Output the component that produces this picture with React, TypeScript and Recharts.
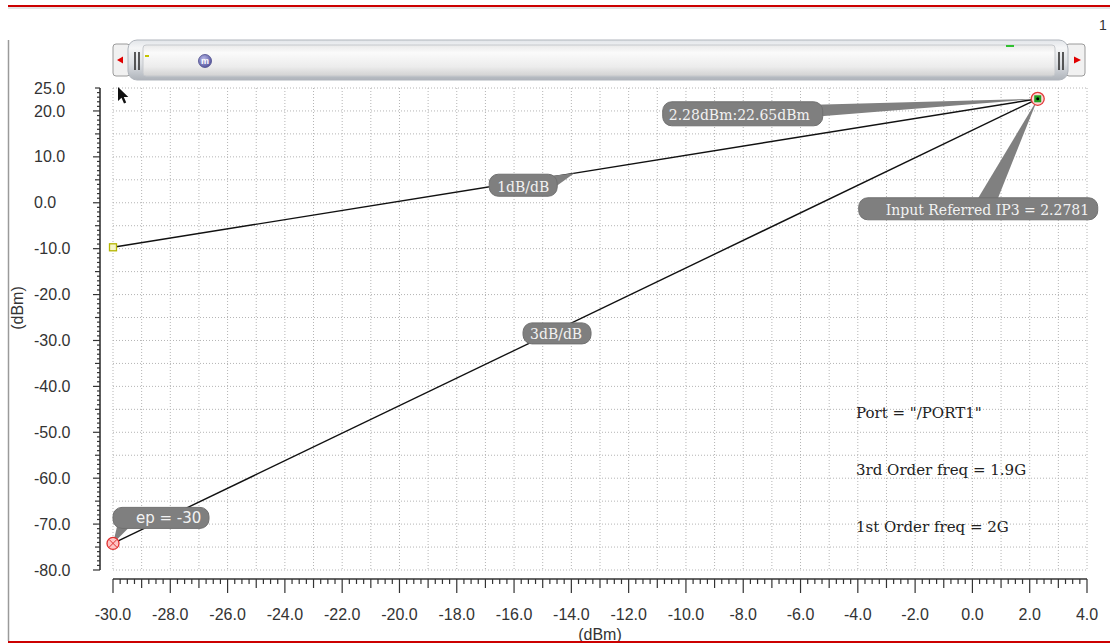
import React from "react";
import {
  LineChart,
  Line,
  XAxis,
  YAxis,
  CartesianGrid,
  ReferenceDot,
} from "recharts";

const WIDTH = 1110;
const HEIGHT = 644;

// IP3 intercept: input dBm / output dBm
const IP3_IN = 2.28;
const IP3_OUT = 22.65;
const EXTRAP_POINT = -30;

// 1st order (1dB/dB) and 3rd order (3dB/dB) extrapolation lines
const FIRST_ORDER = [
  { x: EXTRAP_POINT, y: -9.7 },
  { x: IP3_IN, y: IP3_OUT },
];
const THIRD_ORDER = [
  { x: EXTRAP_POINT, y: -74.2 },
  { x: IP3_IN, y: IP3_OUT },
];

const X_LABELS = [-30, -28, -26, -24, -22, -20, -18, -16, -14, -12, -10, -8, -6, -4, -2, 0, 2, 4];
const Y_LABELS = [25, 20, 10, 0, -10, -20, -30, -40, -50, -60, -70, -80];
const X_GRID = Array.from({ length: 35 }, (_, i) => -30 + i);
const Y_GRID = Array.from({ length: 22 }, (_, i) => 25 - i * 5);
const X_RULER = Array.from({ length: 137 }, (_, i) => -30 + i * 0.25);
const Y_RULER = Array.from({ length: 106 }, (_, i) => -80 + i);

const NOTES = ['Port = "/PORT1"', "3rd Order freq = 1.9G", "1st Order freq = 2G"];

const SERIF = "'DejaVu Serif', serif";
const SANS = "'Liberation Sans', Arial, sans-serif";

// point on a straight segment at a given x, used to pin the slope labels
const onLine = (pts: { x: number; y: number }[], x: number) => {
  const [a, b] = pts;
  return { x, y: a.y + ((x - a.x) * (b.y - a.y)) / (b.x - a.x) };
};
const LBL_1DB = onLine(FIRST_ORDER, -13.9);
const LBL_3DB = onLine(THIRD_ORDER, -14.5);

type CalloutSpec = {
  text: string;
  box: [number, number, number, number]; // dx, dy, w, h from the anchor
  tail?: [number, number][];
  tx: number;
  ty: number;
  font?: string;
  size?: number;
};

function Callout({ cx, cy, spec }: any) {
  const s: CalloutSpec = spec;
  const [dx, dy, w, h] = s.box;
  return (
    <g>
      {s.tail && (
        <polygon
          points={[...s.tail, [0, 0]].map(([px, py]) => `${cx + px},${cy + py}`).join(" ")}
          fill="#808080"
        />
      )}
      <rect x={cx + dx} y={cy + dy} width={w} height={h} rx={9} fill="#7f7f7f" stroke="#707070" />
      <text
        x={cx + dx + s.tx}
        y={cy + dy + s.ty}
        fill="#f2f2f2"
        fontFamily={s.font ?? SERIF}
        fontSize={s.size ?? 14}
      >
        {s.text}
      </text>
    </g>
  );
}

const CALLOUT_POINT: CalloutSpec = {
  text: `${IP3_IN.toFixed(2)}dBm:${IP3_OUT.toFixed(2)}dBm`,
  box: [-375, 3, 160, 24],
  tail: [[-223, 6], [-223, 18]],
  tx: 6,
  ty: 18,
};
const CALLOUT_IP3: CalloutSpec = {
  text: "Input Referred IP3 = 2.2781",
  box: [-179, 99, 239, 22],
  tail: [[-60, 100], [-40, 100]],
  tx: 27,
  ty: 17,
};
const CALLOUT_1DB: CalloutSpec = {
  text: "1dB/dB",
  box: [-85, 1, 68, 22],
  tail: [[-26, 3], [-18, 13]],
  tx: 8,
  ty: 18,
};
const CALLOUT_3DB: CalloutSpec = {
  text: "3dB/dB",
  box: [-34, -7, 68, 21],
  tx: 7,
  ty: 16,
};
const CALLOUT_EP: CalloutSpec = {
  text: `ep = ${EXTRAP_POINT}`,
  box: [0, -36, 96, 21],
  tail: [[4, -17], [17, -17]],
  tx: 23,
  ty: 16,
  font: "'DejaVu Sans', sans-serif",
  size: 15,
};

const isInt = (v: number) => Math.abs(v - Math.round(v)) < 1e-9;

function XRulerTick({ x, y, payload }: any) {
  const v: number = payload.value;
  const major = isInt(v) && Math.round(v) % 2 === 0;
  const len = major ? 14 : isInt(v) ? 9 : 5;
  const ay = y + 9;
  return (
    <g>
      <line x1={x} x2={x} y1={ay} y2={ay + len} stroke="#333" strokeWidth={1.2} />
      {major && X_LABELS.includes(Math.round(v)) && (
        <text x={x} y={y + 44} textAnchor="middle" dy="0.35em" fill="#333" fontFamily={SANS} fontSize={16}>
          {v.toFixed(1)}
        </text>
      )}
    </g>
  );
}

function YRulerTick({ x, y, payload }: any) {
  const v: number = payload.value;
  const len = v % 10 === 0 ? 7 : v % 5 === 0 ? 5 : 3;
  const ax = x - 13;
  return (
    <g>
      <line x1={ax - len} x2={ax} y1={y} y2={y} stroke="#333" strokeWidth={1.2} />
      {Y_LABELS.includes(v) && (
        <text x={x - 79} y={y} dy="0.35em" textAnchor="start" fill="#333" fontFamily={SANS} fontSize={16}>
          {v.toFixed(1)}
        </text>
      )}
    </g>
  );
}

// hollow square at the 1st order extrapolation start
const squareDot = ({ cx, cy, index }: any) =>
  index === 0 ? (
    <rect key="sq" x={cx - 3.5} y={cy - 3.5} width={7} height={7} fill="#f6f6c8" stroke="#b5b500" strokeWidth={1.3} />
  ) : (
    <g key="none" />
  );

// red circled cross at the 3rd order extrapolation start
const crossDot = ({ cx, cy, index }: any) =>
  index === 0 ? (
    <g key="cx">
      <circle cx={cx} cy={cy} r={6} fill="#ffc4c4" stroke="#e03030" strokeWidth={1.3} />
      <line x1={cx - 4} y1={cy - 4} x2={cx + 4} y2={cy + 4} stroke="#e03030" />
      <line x1={cx - 4} y1={cy + 4} x2={cx + 4} y2={cy - 4} stroke="#e03030" />
    </g>
  ) : (
    <g key="none" />
  );

function InterceptMarker({ cx, cy }: any) {
  return (
    <g>
      <circle cx={cx} cy={cy} r={6.5} fill="#ffd6d6" stroke="#e03a3a" strokeWidth={1.3} />
      <rect x={cx - 3.5} y={cy - 3.5} width={7} height={7} fill="#20a020" />
      <circle cx={cx} cy={cy} r={1.5} fill="#000" />
    </g>
  );
}

function Chrome() {
  return (
    <svg
      width={WIDTH}
      height={HEIGHT}
      style={{ position: "absolute", left: 0, top: 0, pointerEvents: "none" }}
    >
      <defs>
        <linearGradient id="barOuter" x1="0" y1="0" x2="0" y2="1">
          <stop offset="0" stopColor="#e2e5e9" />
          <stop offset="0.2" stopColor="#f5f6f7" />
          <stop offset="0.6" stopColor="#dcdfe3" />
          <stop offset="1" stopColor="#aeb3ba" />
        </linearGradient>
        <linearGradient id="barInner" x1="0" y1="0" x2="0" y2="1">
          <stop offset="0" stopColor="#e9e9e9" />
          <stop offset="0.25" stopColor="#fbfbfb" />
          <stop offset="0.7" stopColor="#ececec" />
          <stop offset="1" stopColor="#d2d2d2" />
        </linearGradient>
        <radialGradient id="mBadge" cx="0.4" cy="0.35" r="0.7">
          <stop offset="0" stopColor="#b8b8e8" />
          <stop offset="1" stopColor="#50509a" />
        </radialGradient>
      </defs>

      <line x1={8} x2={WIDTH} y1={6} y2={6} stroke="#cc0000" strokeWidth={2} />
      <line x1={8} x2={WIDTH} y1={8} y2={8} stroke="#c8c8c8" strokeWidth={1} />
      <text x={1099} y={30} fill="#333" fontFamily={SANS} fontSize={14}>1</text>
      <line x1={8.5} x2={8.5} y1={40} y2={641} stroke="#9a9a9a" strokeWidth={1.5} />

      {/* scroll / zoom bar */}
      <rect x={113} y={44} width={17} height={32} rx={3} fill="#f1f1f1" stroke="#9a9a9a" />
      <polygon points="117,60 123,56.5 123,63.5" fill="#e00000" />
      <rect x={1066} y={44} width={19} height={32} rx={3} fill="#f1f1f1" stroke="#9a9a9a" />
      <polygon points="1074,56.5 1074,63.5 1081,60" fill="#e00000" />
      <rect x={128} y={40} width={940} height={40} rx={9} fill="url(#barOuter)" stroke="#b0b5bc" />
      <rect x={143} y={45} width={912} height={31} rx={3} fill="url(#barInner)" stroke="#c6c9cd" />
      <line x1={135} x2={135} y1={52} y2={70} stroke="#333" strokeWidth={1.6} />
      <line x1={139} x2={139} y1={52} y2={70} stroke="#333" strokeWidth={1.6} />
      <line x1={1059} x2={1059} y1={52} y2={70} stroke="#333" strokeWidth={1.6} />
      <line x1={1063} x2={1063} y1={52} y2={70} stroke="#333" strokeWidth={1.6} />
      <line x1={145} x2={149} y1={56} y2={56} stroke="#c4c400" strokeWidth={2} />
      <line x1={1006} x2={1014} y1={46} y2={46} stroke="#30c030" strokeWidth={2} />
      <circle cx={205} cy={61} r={6.5} fill="url(#mBadge)" stroke="#4a4a8a" strokeWidth={0.8} />
      <text x={205} y={64} textAnchor="middle" fill="#fff" fontFamily={SANS} fontSize={9} fontWeight="bold">m</text>

      {/* pointer */}
      <path d="M118 87 L118 101 L121.5 97.8 L124 103.5 L126.2 102.5 L123.8 97 L128.3 97 Z" fill="#111" />

      {/* analysis notes */}
      {NOTES.map((t, i) => (
        <text key={t} x={856} y={418 + i * 57} fill="#222" fontFamily={SERIF} fontSize={15}>
          {t}
        </text>
      ))}

      {/* axis titles */}
      <text
        transform="translate(23,308) rotate(-90)"
        textAnchor="middle"
        fill="#333"
        fontFamily={SANS}
        fontSize={16}
      >
        (dBm)
      </text>
      <text x={600} y={640} textAnchor="middle" fill="#333" fontFamily={SANS} fontSize={16}>
        (dBm)
      </text>
      <line x1={8} x2={WIDTH} y1={642} y2={642} stroke="#cc0000" strokeWidth={2} />
    </svg>
  );
}

export default function App() {
  return (
    <div style={{ position: "relative", width: WIDTH, height: HEIGHT, background: "#fff" }}>
      <style>{`body{margin:0}`}</style>
      <LineChart
        width={WIDTH}
        height={HEIGHT}
        margin={{ top: 88, right: 23, bottom: 8, left: 8 }}
      >
        <CartesianGrid
          stroke="#b4b4b4"
          strokeDasharray="1 2"
          horizontalValues={Y_GRID}
          verticalValues={X_GRID}
        />
        <XAxis
          type="number"
          dataKey="x"
          domain={[-30, 4]}
          ticks={X_RULER}
          interval={0}
          height={66}
          tickSize={0}
          tickMargin={0}
          tickLine={false}
          axisLine={{ stroke: "#333", strokeWidth: 1.6, transform: "translate(0,9)" }}
          tick={<XRulerTick />}
        />
        <YAxis
          type="number"
          dataKey="y"
          domain={[-80, 25]}
          ticks={Y_RULER}
          interval={0}
          width={105}
          tickSize={0}
          tickMargin={0}
          tickLine={false}
          axisLine={{ stroke: "#333", strokeWidth: 1.6, transform: "translate(-13,0)" }}
          tick={<YRulerTick />}
        />

        <ReferenceDot x={IP3_IN} y={IP3_OUT} shape={(p: any) => <Callout {...p} spec={CALLOUT_POINT} />} />
        <ReferenceDot x={IP3_IN} y={IP3_OUT} shape={(p: any) => <Callout {...p} spec={CALLOUT_IP3} />} />
        <ReferenceDot x={LBL_1DB.x} y={LBL_1DB.y} shape={(p: any) => <Callout {...p} spec={CALLOUT_1DB} />} />
        <ReferenceDot x={LBL_3DB.x} y={LBL_3DB.y} shape={(p: any) => <Callout {...p} spec={CALLOUT_3DB} />} />
        <ReferenceDot x={EXTRAP_POINT} y={THIRD_ORDER[0].y} shape={(p: any) => <Callout {...p} spec={CALLOUT_EP} />} />

        <Line
          data={FIRST_ORDER}
          dataKey="y"
          stroke="#111"
          strokeWidth={1.4}
          dot={squareDot}
          activeDot={false}
          isAnimationActive={false}
        />
        <Line
          data={THIRD_ORDER}
          dataKey="y"
          stroke="#111"
          strokeWidth={1.4}
          dot={crossDot}
          activeDot={false}
          isAnimationActive={false}
        />
        <ReferenceDot x={IP3_IN} y={IP3_OUT} shape={(p: any) => <InterceptMarker {...p} />} />
      </LineChart>
      <Chrome />
    </div>
  );
}
